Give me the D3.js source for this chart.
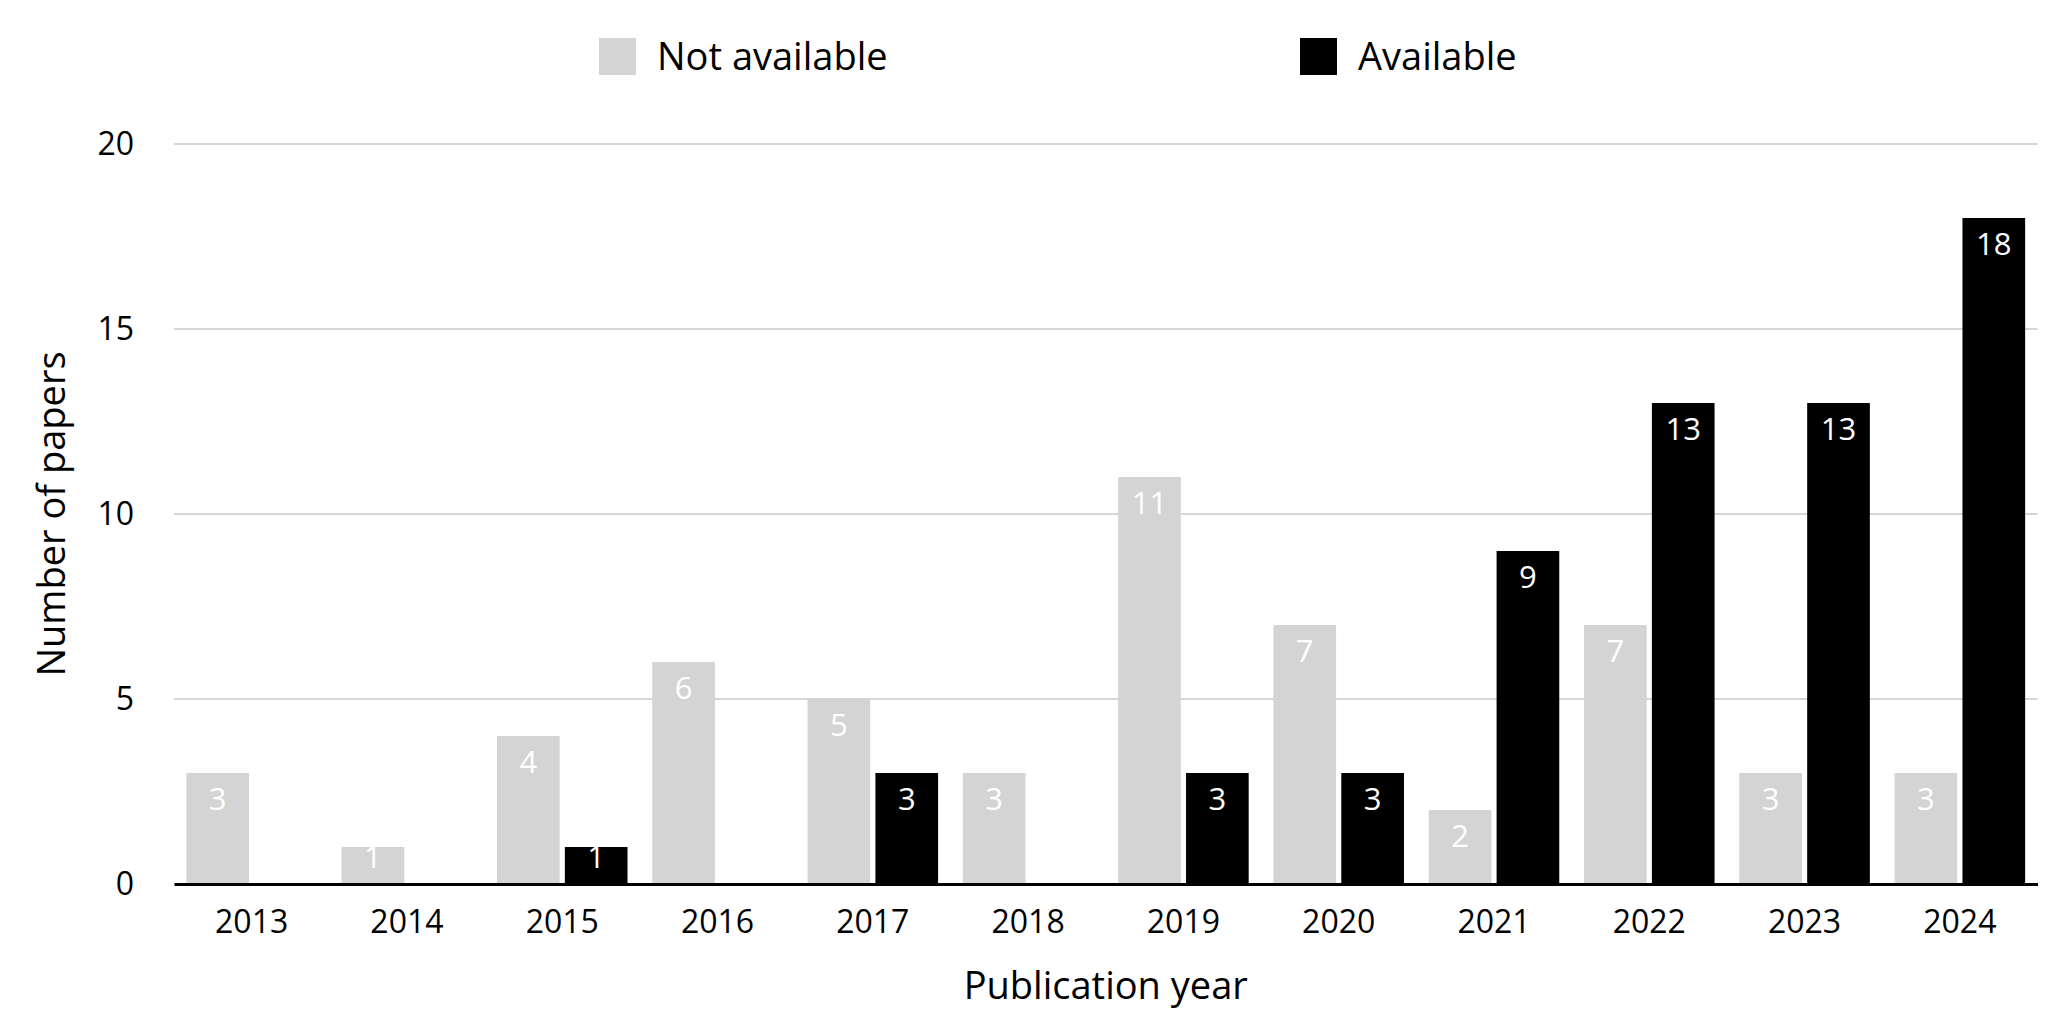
<!DOCTYPE html>
<meta charset="utf-8">
<style>
  body { margin: 0; background: #fff; }
  text { font-family: "Open Sans", "Noto Sans", sans-serif; }
</style>
<body>
<div id="chart"></div>
<script src="https://d3js.org/d3.v7.min.js"></script>
<script>

var years = ["2013","2014","2015","2016","2017","2018","2019","2020","2021","2022","2023","2024"];
var notAvailable = [3, 1, 4, 6, 5, 3, 11, 7, 2, 7, 3, 3];
var available    = [0, 0, 1, 0, 3, 0, 3, 3, 9, 13, 13, 18];
var seriesNames = ["Not available", "Available"];
var yTicks = [0, 5, 10, 15, 20];

var colors = {"Not available": "#d4d4d4", "Available": "#000000"};

var W = 2048, H = 1016;
var margin = {top: 144, right: 10.5, bottom: 132, left: 174};
var width = W - margin.left - margin.right,
    height = H - margin.top - margin.bottom;

var svg = d3.select("#chart")
  .append("svg")
    .attr("width", W)
    .attr("height", H);

var g = svg.append("g")
    .attr("transform", "translate(" + margin.left + "," + margin.top + ")");

var x0 = d3.scaleBand()
  .domain(years)
  .range([0, width])
  .padding(0);

var x1 = d3.scaleBand()
  .domain(seriesNames)
  .range([0, x0.bandwidth()])
  .paddingInner(0.077)
  .paddingOuter(0.182);

var y = d3.scaleLinear()
  .domain([0, 20])
  .range([height, 0]);

// gridlines
g.append("g")
  .selectAll("line")
  .data(yTicks.filter(function(d) { return d > 0; }))
  .enter().append("line")
    .attr("x1", 0)
    .attr("x2", width)
    .attr("y1", function(d) { return y(d); })
    .attr("y2", function(d) { return y(d); })
    .attr("stroke", "#c8c8c8")
    .attr("stroke-width", 1.5);

// y axis labels
var yAxis = g.append("g")
  .call(d3.axisLeft(y).tickValues(yTicks).tickSize(0).tickPadding(40));
yAxis.select(".domain").remove();
yAxis.selectAll("text")
  .style("font-size", "32px")
  .attr("fill", "#000");

// data table
var rows = years.map(function(yr, i) {
  return {year: yr, values: [
    {key: "Not available", value: notAvailable[i]},
    {key: "Available", value: available[i]}
  ]};
});

var groups = g.selectAll(".year")
  .data(rows)
  .enter().append("g")
    .attr("class", "year")
    .attr("transform", function(d) { return "translate(" + x0(d.year) + ",0)"; });

groups.selectAll("rect")
  .data(function(d) { return d.values.filter(function(v) { return v.value > 0; }); })
  .enter().append("rect")
    .attr("x", function(d) { return x1(d.key); })
    .attr("y", function(d) { return y(d.value); })
    .attr("width", x1.bandwidth())
    .attr("height", function(d) { return height - y(d.value); })
    .attr("fill", function(d) { return colors[d.key]; });

groups.selectAll("text.lbl")
  .data(function(d) { return d.values.filter(function(v) { return v.value > 0; }); })
  .enter().append("text")
    .attr("class", "lbl")
    .attr("x", function(d) { return x1(d.key) + x1.bandwidth() / 2; })
    .attr("y", function(d) { return Math.min(y(d.value) + 26, height - 27); })
    .attr("dy", "0.35em")
    .attr("text-anchor", "middle")
    .attr("fill", "#fff")
    .style("font-size", "31px")
    .text(function(d) { return d.value; });

// x axis
var xAxis = g.append("g")
  .attr("transform", "translate(0," + height + ")")
  .call(d3.axisBottom(x0).tickSize(0).tickPadding(26));
xAxis.select(".domain")
  .attr("stroke", "#000")
  .attr("stroke-width", 3);
xAxis.selectAll("text")
  .style("font-size", "32px")
  .attr("fill", "#000");

// axis titles
svg.append("text")
  .attr("x", margin.left + width / 2)
  .attr("y", 986)
  .attr("dy", "0.35em")
  .attr("text-anchor", "middle")
  .style("font-size", "38px")
  .text("Publication year");

svg.append("text")
  .attr("transform", "translate(52," + (margin.top + height / 2) + ") rotate(-90)")
  .attr("dy", "0.35em")
  .attr("text-anchor", "middle")
  .style("font-size", "38px")
  .text("Number of papers");

// legend
var legendX = [599, 1300];
var legend = svg.selectAll(".legend")
  .data(seriesNames)
  .enter().append("g")
    .attr("class", "legend")
    .attr("transform", function(d, i) { return "translate(" + legendX[i] + ",38)"; });
legend.append("rect")
  .attr("width", 37)
  .attr("height", 37)
  .attr("fill", function(d) { return colors[d]; });
legend.append("text")
  .attr("x", 58)
  .attr("y", 18.5)
  .attr("dy", "0.35em")
  .style("font-size", "38px")
  .text(function(d) { return d; });

</script>
</body>
